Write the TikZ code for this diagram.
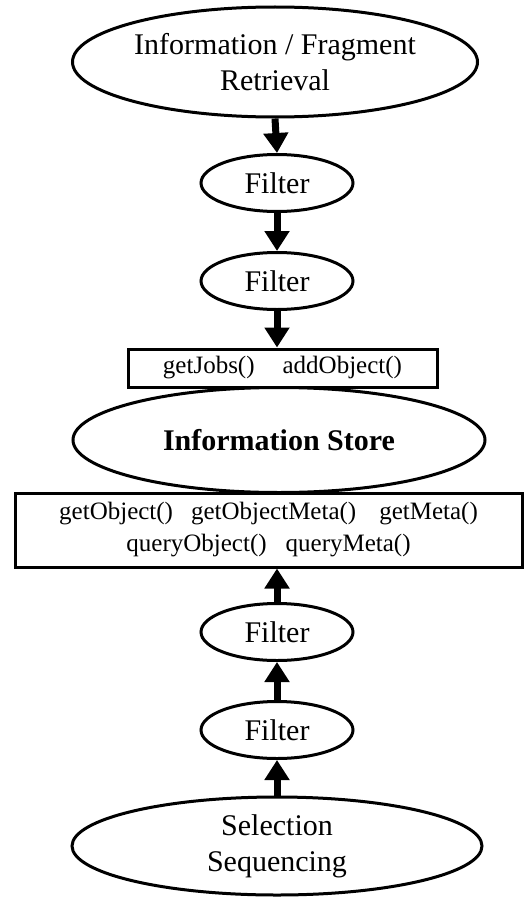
\documentclass[tikz,border=0pt]{standalone}
\usepackage{fontspec}
\setmainfont{Liberation Serif}
\usetikzlibrary{shapes.geometric,arrows.meta}

\tikzset{
  oval/.style={ellipse, draw, line width=3pt, fill=white, inner sep=0pt, align=center,
               font=\fontsize{30}{36}\selectfont},
  filterbox/.style={oval, minimum width=152pt, minimum height=57pt},
  apibox/.style={rectangle, draw, line width=3pt, fill=white, inner sep=0pt, align=center,
                 font=\fontsize{25}{32}\selectfont},
  flow/.style={line width=7pt, -{Triangle[width=24pt,length=20pt]}}
}

\begin{document}
\begin{tikzpicture}[x=1pt, y=-1pt]
  \useasboundingbox (0,0) rectangle (528,899);

  % retrieval stage and its two filters
  \node[oval, minimum width=405pt, minimum height=110pt] (retrieval) at (275,62)
    {Information / Fragment\\Retrieval};
  \node[filterbox] (filterA) at (277,183) {Filter};
  \node[filterbox] (filterB) at (277,281) {Filter};

  % the store with its write and read interfaces
  \node[oval, minimum width=412pt, minimum height=105pt] (store) at (279,440)
    {\bfseries Information Store};
  \node[apibox, minimum width=309pt, minimum height=38pt] (writeapi) at (282.5,368)
    {getJobs()\hspace{28pt}addObject()};
  \node[apibox, minimum width=507pt, minimum height=74pt] (readapi) at (268.5,530)
    {getObject()\hspace{18pt}getObjectMeta()\hspace{23pt}getMeta()\\
     queryObject()\hspace{19pt}queryMeta()};

  % selection stage and its two filters
  \node[filterbox] (filterC) at (277,632) {Filter};
  \node[filterbox] (filterD) at (277,730) {Filter};
  \node[oval, minimum width=410pt, minimum height=98pt] (selection) at (277,846)
    {Selection\\Sequencing};

  % data flow into the store
  \draw[flow] (retrieval.south) -- (filterA.north);
  \draw[flow] (filterA.south) -- (filterB.north);
  \draw[flow] (filterB.south) -- (filterB.south |- writeapi.north);

  % data flow out of the store
  \draw[flow] (filterC.north) -- (filterC.north |- readapi.south);
  \draw[flow] (filterD.north) -- (filterC.south);
  \draw[flow] (selection.north) -- (filterD.south);
\end{tikzpicture}
\end{document}
